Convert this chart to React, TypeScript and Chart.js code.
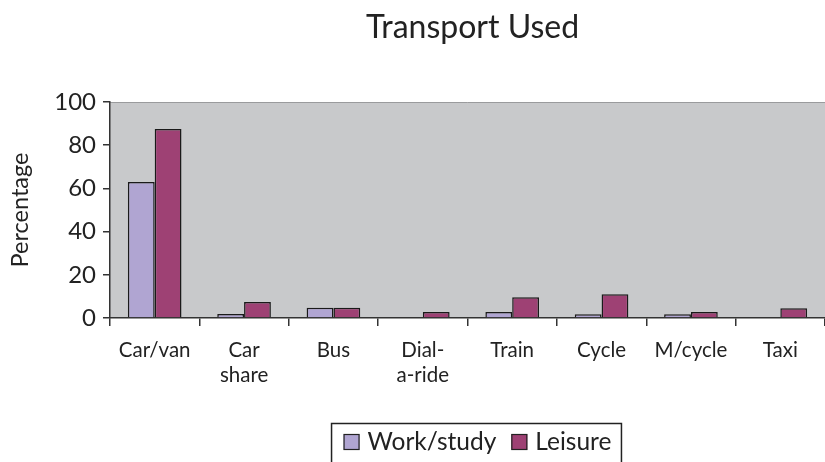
import React, { useEffect, useRef } from "react";
import { Chart, registerables } from "chart.js";

Chart.register(...registerables);

const categories: (string | string[])[] = ["Car/van", ["Car", "share"], "Bus", ["Dial-", "a-ride"], "Train", "Cycle", "M/cycle", "Taxi"];
const seriesNames = ["Work/study", "Leisure"];
const workStudy = [63, 1.8, 4.8, 0, 2.8, 1.7, 1.7, 0];
const leisure = [87.5, 7.4, 4.8, 2.8, 9.6, 11, 2.8, 4.5];
const yTicks = [0, 20, 40, 60, 80, 100];
const colors = ["#b0a5d2", "#9e4174"];
const titleText = "Transport Used";

const FONT = "Lato, 'Noto Sans', sans-serif";

const bgPlugin = {
  id: "plotBg",
  beforeDraw(chart: any) {
    const { ctx, chartArea } = chart;
    ctx.save();
    ctx.fillStyle = "#c8c9cb";
    ctx.fillRect(chartArea.left, chartArea.top, chartArea.right - chartArea.left, chartArea.bottom - chartArea.top);
    ctx.strokeStyle = "#9a9b9d";
    ctx.lineWidth = 1;
    ctx.beginPath();
    ctx.moveTo(chartArea.left, chartArea.top + 0.5);
    ctx.lineTo(chartArea.right, chartArea.top + 0.5);
    ctx.stroke();
    ctx.restore();
  },
};

const titleLegend = {
  id: "titleLegend",
  afterDraw(chart: any) {
    const { ctx, chartArea } = chart;
    const cx = (chartArea.left + chartArea.right) / 2;
    ctx.save();
    ctx.fillStyle = "#222";
    ctx.textBaseline = "middle";
    ctx.textAlign = "center";
    ctx.font = `32px ${FONT}`;
    ctx.fillText(titleText, cx + 5, 28);

    // legend
    ctx.font = `24.5px ${FONT}`;
    ctx.textAlign = "left";
    const box = 16;
    const gapBoxText = 8;
    const gapItems = 15;
    const widths = seriesNames.map((n) => ctx.measureText(n).width);
    const total = widths.reduce((a, w) => a + box + gapBoxText + w, 0) + gapItems * (seriesNames.length - 1);
    let x = cx + 10 - total / 2;
    const cy = 442;
    seriesNames.forEach((n, i) => {
      ctx.fillStyle = colors[i];
      ctx.fillRect(x, cy - box / 2, box, box);
      ctx.strokeStyle = "#222";
      ctx.lineWidth = 1.2;
      ctx.strokeRect(x + 0.5, cy - box / 2 + 0.5, box - 1, box - 1);
      ctx.fillStyle = "#222";
      ctx.fillText(n, x + box + gapBoxText, cy);
      x += box + gapBoxText + widths[i] + gapItems;
    });
    const left = cx + 10 - total / 2 - 12;
    const right = cx + 10 + total / 2 + 10;
    ctx.strokeStyle = "#222";
    ctx.lineWidth = 1.5;
    ctx.strokeRect(left, 423.5, right - left, 80);
    ctx.restore();
  },
};

export default function App() {
  const ref = useRef<HTMLCanvasElement>(null);
  useEffect(() => {
    document.body.style.margin = "0";
    const chart = new Chart(ref.current!, {
      type: "bar",
      data: {
        labels: categories,
        datasets: [
          { label: seriesNames[0], data: workStudy, backgroundColor: colors[0], borderColor: "#1a1a1a", borderWidth: 1.5, categoryPercentage: 0.6, barPercentage: 1.0 },
          { label: seriesNames[1], data: leisure, backgroundColor: colors[1], borderColor: "#1a1a1a", borderWidth: 1.5, categoryPercentage: 0.6, barPercentage: 1.0 },
        ],
      },
      options: {
        animation: false,
        responsive: false,
        layout: { padding: { left: 0, right: 0, top: 102, bottom: 0 } },
        plugins: {
          title: { display: false },
          legend: { display: false },
          tooltip: { enabled: false },
        },
        scales: {
          x: {
            grid: { display: true, offset: true, drawOnChartArea: false, drawTicks: true, tickLength: 8, color: "#333", lineWidth: 1.5 },
            border: { display: true, color: "#333", width: 1.5 },
            ticks: { color: "#222", font: { family: FONT, size: 20.5, lineHeight: 1.2 }, maxRotation: 0, autoSkip: false, padding: 12 },
            afterFit(scale: any) { scale.height = 144; },
          },
          y: {
            min: 0,
            max: 100,
            afterBuildTicks(scale: any) { scale.ticks = yTicks.map((v) => ({ value: v })); },
            grid: { display: true, drawOnChartArea: false, drawTicks: true, tickLength: 7, color: "#333", lineWidth: 1.5 },
            border: { display: true, color: "#333", width: 1.5 },
            ticks: { color: "#222", font: { family: FONT, size: 24 }, padding: 7 },
            title: { display: true, text: "Percentage", color: "#222", font: { family: FONT, size: 23.5 }, padding: { top: 6, bottom: 0 } },
            afterFit(scale: any) { scale.width = 110; },
          },
        },
      },
      plugins: [bgPlugin, titleLegend],
    });
    return () => chart.destroy();
  }, []);
  return (
    <div style={{ width: 825, height: 462 }}>
      <canvas ref={ref} width={825} height={462} style={{ width: 825, height: 462, display: "block" }} />
    </div>
  );
}
